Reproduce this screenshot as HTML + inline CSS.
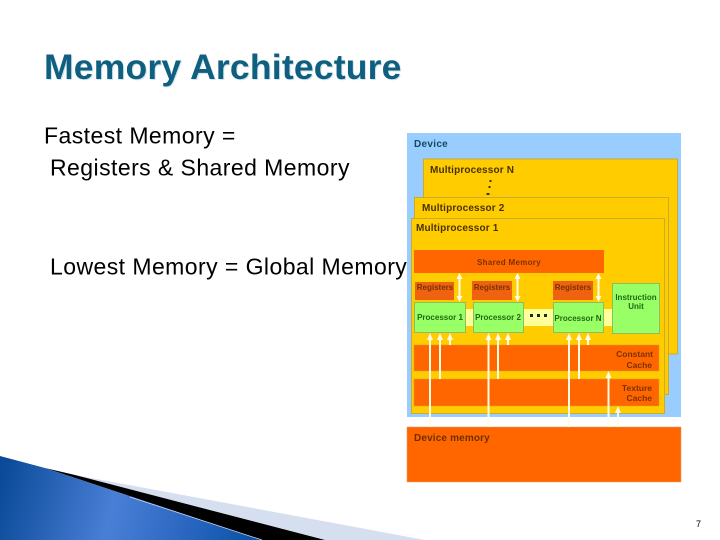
<!DOCTYPE html>
<html>
<head>
<meta charset="utf-8">
<style>
html,body{margin:0;padding:0;background:#fff;width:720px;height:540px;overflow:hidden}
svg{display:block}
text{font-family:"Liberation Sans",sans-serif}
.b{font-size:23px;letter-spacing:.44px;fill:#000}
.h{font-size:10px;font-weight:bold;fill:#4a3200;letter-spacing:.15px}
.s{font-size:8px;font-weight:bold;fill:#7a3300}
.p{font-size:8px;font-weight:bold;fill:#1f6a10}
.c{font-size:8.5px;font-weight:bold;fill:#7a3300}
</style>
</head>
<body>
<svg width="720" height="540" viewBox="0 0 720 540" xmlns="http://www.w3.org/2000/svg">
<defs>
<linearGradient id="b" gradientUnits="userSpaceOnUse" x1="0" y1="480" x2="250" y2="540">
<stop offset="0" stop-color="#0a4a98"/>
<stop offset="0.45" stop-color="#4a7fd6"/>
<stop offset="0.75" stop-color="#2a66c0"/>
<stop offset="1" stop-color="#0a55a8"/>
</linearGradient>
</defs>
<text x="44" y="79" font-size="35.500" font-weight="bold" letter-spacing=".2" fill="#d4e4ec" transform="translate(1 1)">Memory Architecture</text>
<text x="44" y="79" font-size="35.500" font-weight="bold" letter-spacing=".2" fill="#0f6080">Memory Architecture</text>
<text x="44" y="143.500" class="b">Fastest Memory =</text>
<text x="50" y="175.500" class="b">Registers &amp; Shared Memory</text>
<text x="50" y="274.500" class="b">Lowest Memory = Global Memory</text>

<polygon points="75,475 425,540 325,540" fill="#d5dff0"/>
<polygon points="45,468 75,475 325,540 262,540" fill="#000"/>
<polygon points="0,456 45,468 262,540 0,540" fill="url(#b)"/>
<line x1="130" y1="497" x2="262" y2="540" stroke="#c8d8f0" stroke-width="0.7"/>

<rect x="407" y="133" width="274" height="284" fill="#99ccff"/>
<rect x="423.5" y="159" width="254" height="195" fill="#ffcc00" stroke="#c8ab30" stroke-width="1"/>
<rect x="414.5" y="197.5" width="254" height="197" fill="#ffcc00" stroke="#c8ab30" stroke-width="1"/>
<rect x="411.5" y="218.5" width="253" height="195" fill="#ffcc00" stroke="#c8ab30" stroke-width="1"/>
<text x="414" y="147" font-size="10" font-weight="bold" letter-spacing=".3" fill="#0d4c66">Device</text>
<text x="430" y="173" class="h">Multiprocessor N</text>
<text x="422" y="211" class="h">Multiprocessor 2</text>
<text x="416" y="231" class="h">Multiprocessor 1</text>
<rect x="489.500" y="180" width="2" height="2" fill="#443300"/>
<rect x="488.500" y="186" width="2" height="2" fill="#443300"/>
<rect x="486.500" y="193" width="3" height="2" fill="#443300"/>

<rect x="414" y="250" width="190" height="23" fill="#ff6600"/>
<text x="509" y="265" class="s" letter-spacing=".3" text-anchor="middle">Shared Memory</text>
<rect x="415" y="282" width="39" height="18" fill="#ee6210"/>
<rect x="472" y="281" width="40" height="19" fill="#ee6210"/>
<rect x="553" y="281" width="40" height="19" fill="#ee6210"/>
<text x="435" y="290" class="s" text-anchor="middle">Registers</text>
<text x="492" y="290" class="s" text-anchor="middle">Registers</text>
<text x="573" y="290" class="s" text-anchor="middle">Registers</text>

<rect x="465" y="309" width="147" height="17" fill="#ffff99"/>
<rect x="414.500" y="302.500" width="51" height="30" fill="#99ff66" stroke="#8fbc5c"/>
<rect x="473.500" y="302.500" width="50" height="30" fill="#99ff66" stroke="#8fbc5c"/>
<rect x="553.500" y="302.500" width="50" height="30" fill="#99ff66" stroke="#8fbc5c"/>
<rect x="612.500" y="283.500" width="47" height="50" fill="#99ff66" stroke="#8fbc5c"/>
<text x="440" y="320" class="p" text-anchor="middle">Processor 1</text>
<text x="498" y="320" class="p" text-anchor="middle">Processor 2</text>
<text x="578" y="321" class="p" text-anchor="middle">Processor N</text>
<text x="636" y="300" class="p" text-anchor="middle">Instruction</text>
<text x="636" y="309" class="p" text-anchor="middle">Unit</text>
<rect x="530" y="314" width="3" height="3" fill="#222"/>
<rect x="537" y="314" width="3" height="3" fill="#222"/>
<rect x="544" y="314" width="3" height="3" fill="#222"/>

<rect x="414" y="345" width="245" height="26" fill="#ff6600" stroke="#d8a020" stroke-width="0.5"/>
<rect x="414" y="379" width="245" height="27" fill="#ff6600" stroke="#d8a020" stroke-width="0.5"/>
<text x="653" y="357" class="c" text-anchor="end">Constant</text>
<text x="652" y="368" class="c" text-anchor="end">Cache</text>
<text x="652" y="391" class="c" text-anchor="end">Texture</text>
<text x="652" y="401" class="c" text-anchor="end">Cache</text>

<rect x="407" y="427" width="274" height="55" fill="#ff6600" stroke="#e0a070" stroke-width="0.5"/>
<text x="414" y="441" font-size="10" font-weight="bold" letter-spacing=".15" fill="#6b3000">Device memory</text>

<g stroke="#fffbe6" stroke-width="2" fill="#fffbe6">
<path d="M430 427V338" fill="none"/><polygon points="430,333 427,340 433,340" stroke="none"/>
<path d="M440 379V338" fill="none"/><polygon points="440,333 437,340 443,340" stroke="none"/>
<path d="M450 345V338" fill="none"/><polygon points="450,333 447,340 453,340" stroke="none"/>
<path d="M488.500 427V338" fill="none"/><polygon points="488.500,333 485.500,340 491.500,340" stroke="none"/>
<path d="M498 379V338" fill="none"/><polygon points="498,333 495,340 501,340" stroke="none"/>
<path d="M508 345V338" fill="none"/><polygon points="508,333 505,340 511,340" stroke="none"/>
<path d="M569 427V338" fill="none"/><polygon points="569,333 566,340 572,340" stroke="none"/>
<path d="M579 379V338" fill="none"/><polygon points="579,333 576,340 582,340" stroke="none"/>
<path d="M588 345V338" fill="none"/><polygon points="588,333 585,340 591,340" stroke="none"/>
<path d="M608.500 427V376" fill="none"/><polygon points="608.500,371 605.500,378 611.500,378" stroke="none"/>
<path d="M618 427V411" fill="none"/><polygon points="618,406 615,413 621,413" stroke="none"/>
<path d="M459.500 277V297" fill="none"/><polygon points="459.500,273 456.500,279 462.500,279" stroke="none"/><polygon points="459.500,302 456.500,296 462.500,296" stroke="none"/>
<path d="M517.500 277V297" fill="none"/><polygon points="517.500,273 514.500,279 520.500,279" stroke="none"/><polygon points="517.500,302 514.500,296 520.500,296" stroke="none"/>
<path d="M598.500 277V297" fill="none"/><polygon points="598.500,273 595.500,279 601.500,279" stroke="none"/><polygon points="598.500,302 595.500,296 601.500,296" stroke="none"/>
</g>

<text x="696" y="527" font-size="9" fill="#000">7</text>
</svg>
</body>
</html>
